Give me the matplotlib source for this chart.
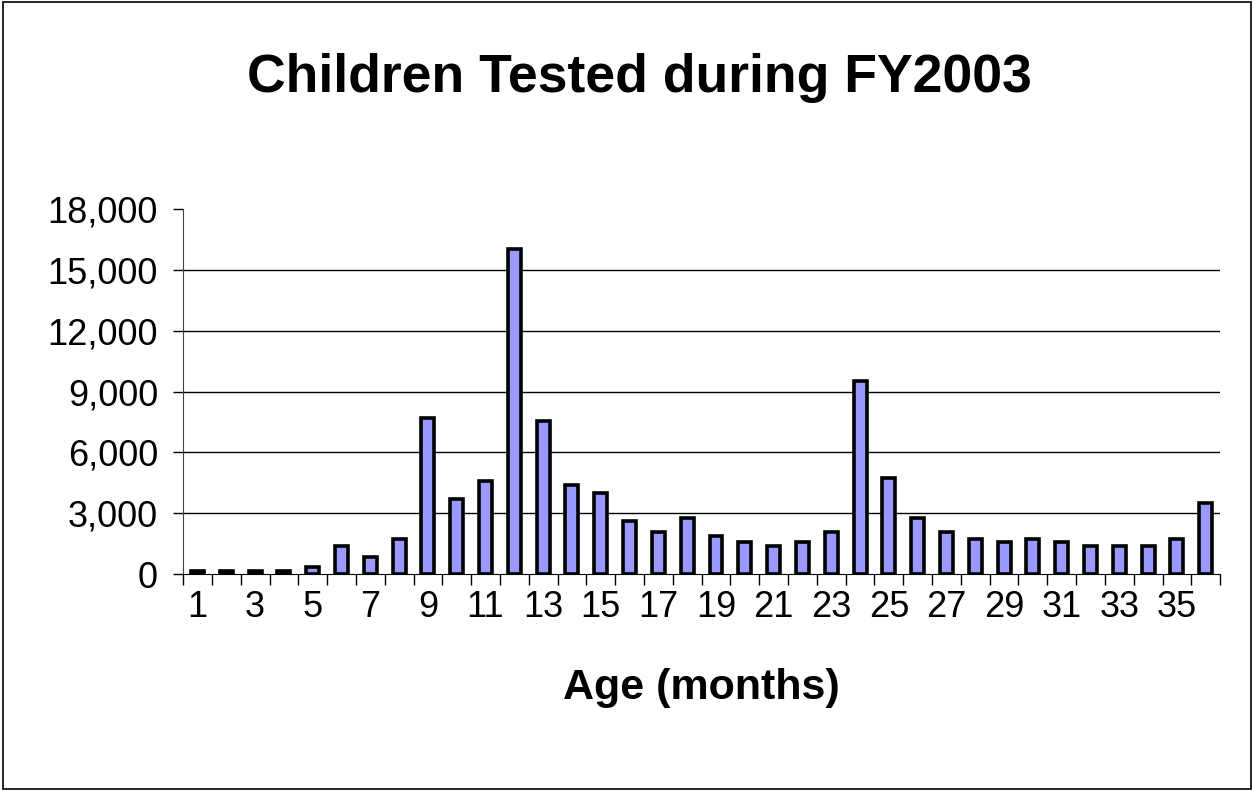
import matplotlib
matplotlib.use('Agg')
import matplotlib.pyplot as plt
import numpy as np
from matplotlib.ticker import FuncFormatter
from matplotlib.patches import Rectangle

plt.rcParams['font.family'] = ['Liberation Sans', 'DejaVu Sans']

# ======================
# DATA
# ======================

ages = list(range(1, 37))

children = [
    150, 150, 150, 150, 380, 1400, 870, 1720, 7700, 3700,
    4600, 16000, 7550, 4380, 4000, 2620, 2090, 2790, 1900, 1580,
    1380, 1580, 2090, 9500, 4740, 2790, 2090, 1740, 1580, 1740,
    1580, 1380, 1380, 1380, 1740, 3500
]

yticks = [0, 3000, 6000, 9000, 12000, 15000, 18000]
xtick_labels = [str(a) for a in ages[::2]]

# ======================
# FIGURE
# ======================

fig = plt.figure(
    figsize=(12.54, 7.91),
    dpi=100
)

ax = fig.add_axes([0.146, 0.274, 0.827, 0.462])

ax.bar(
    ages,
    children,
    width=0.45,
    color='#9999FF',
    edgecolor='black',
    linewidth=2.6,
    zorder=3
)

for v in yticks[1:-1]:
    ax.axhline(v, color='black', linewidth=1.0, zorder=1)

ax.set_xlim(0.5, 36.5)
ax.set_ylim(0, 18000)

ax.set_yticks(yticks)
ax.yaxis.set_major_formatter(FuncFormatter(lambda v, p: f'{int(v):,}'))

# tick marks between categories, labels on odd categories
ax.set_xticks(np.arange(0.5, 37, 1))
ax.set_xticklabels([])
ax.set_xticks(ages[::2], minor=True)
ax.set_xticklabels(xtick_labels, minor=True)

ax.tick_params(axis='x', which='major', length=8, width=1, direction='out')
ax.tick_params(axis='x', which='minor', length=0, pad=11, labelsize=26)
ax.tick_params(axis='y', length=7, width=1, direction='out', pad=11, labelsize=26)

for s in ['top', 'right']:
    ax.spines[s].set_visible(False)
ax.spines['left'].set_color('#404040')
ax.spines['bottom'].set_color('black')

ax.set_xlabel(
    'Age (months)',
    fontsize=31,
    fontweight='bold',
    labelpad=31
)

fig.text(
    0.51, 0.902,
    'Children Tested during FY2003',
    ha='center',
    va='center',
    fontsize=38.5,
    fontweight='bold'
)

fig.patches.append(Rectangle(
    (0.002, 0.002), 0.996, 0.996,
    transform=fig.transFigure,
    fill=False,
    edgecolor='black',
    linewidth=1.2
))

plt.savefig('out.png', dpi=100)
plt.close()
